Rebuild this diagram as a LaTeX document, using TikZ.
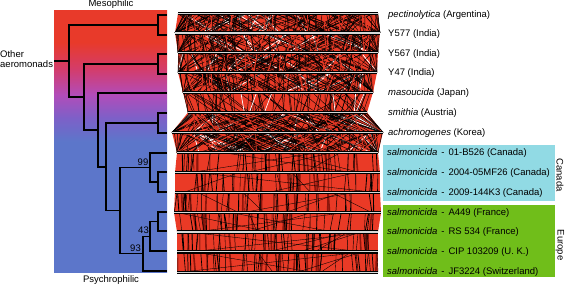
\documentclass[tikz,border=0pt]{standalone}
\usepackage{fontspec}
\setmainfont{Liberation Sans}
\definecolor{synred}{RGB}{234,58,38}
\definecolor{darkred}{RGB}{140,22,12}
\definecolor{cyanbox}{RGB}{145,218,228}
\definecolor{greenbox}{RGB}{112,190,26}
\definecolor{gRed}{RGB}{232,58,42}
\definecolor{gRedMag}{RGB}{212,60,105}
\definecolor{gMag}{RGB}{178,76,185}
\definecolor{gPurp}{RGB}{125,96,200}
\definecolor{gBlue}{RGB}{92,118,202}
\definecolor{barfill}{RGB}{215,215,215}
\pgfdeclareverticalshading{thermo}{100bp}{color(0bp)=(gBlue); color(50bp)=(gBlue); color(54.5bp)=(gPurp); color(59bp)=(gMag); color(64bp)=(gRedMag); color(69bp)=(gRed); color(100bp)=(gRed)}
\begin{document}
\begin{tikzpicture}[x=1pt,y=-1pt,font=\fontsize{9.5}{10.5}\selectfont,
  tree/.style={line width=1.5pt,line join=miter},
  lab/.style={anchor=west,inner sep=0pt},
  boot/.style={anchor=base east,inner sep=0pt},
  region/.style={inner sep=0pt},
  barline/.style={line width=3.4pt,black},
  barinner/.style={line width=1.3pt,barfill}]
\useasboundingbox (0,0) rectangle (565,286);
\pgfmathsetseed{4242}
% gradient panel
\shade[shading=thermo] (54,11) rectangle (167,272);
\node[region] (meso) at (111,4.5) {Mesophilic};
\node[region] (psych) at (111,280.5) {Psychrophilic};
\node[region,anchor=west,align=left] (other) at (0,59) {Other\\aeromonads};
% coloured boxes
\fill[cyanbox] (383,145) rectangle (555,201);
\fill[greenbox] (383,205) rectangle (555,277);
\node[region,rotate=-90] (canada) at (560,175) {Canada};
\node[region,rotate=-90] (europe) at (560,245) {Europe};
% synteny bands
\foreach \yA/\xA/\xB/\yB/\xC/\xD/\kind in {
  13.3/178/378/32.9/175/380/1,
  32.9/175/380/52.5/178/378/1,
  52.5/178/378/72.3/178/377/1,
  72.3/178/377/92.3/183/373/1,
  92.3/183/373/112.5/188/367/4,
  112.5/188/367/132.3/172/383/2,
  132.3/172/383/152.7/177/378/2,
  152.7/177/378/172.7/175/380/3,
  172.7/175/380/192.5/175/380/3,
  192.5/175/380/212.5/174/381/3,
  212.5/174/381/232/177/378/3,
  232/177/378/251.8/177/378/3,
  251.8/177/378/272.2/177/378/3}{
  \fill[synred] (\xA,\yA) -- (\xB,\yA) -- (\xD,\yB) -- (\xC,\yB) -- cycle;
  \ifnum\kind=1
    \foreach \k in {1,...,12}{
      \pgfmathsetmacro\u{rnd}\pgfmathsetmacro\v{max(0,min(1,\u+0.25*rand))}
      \draw[white,line width=0.8pt] ({\xA+\u*(\xB-\xA)},\yA) -- ({\xC+\v*(\xD-\xC)},\yB);}
    \foreach \k in {1,...,120}{
      \pgfmathsetmacro\u{rnd}\pgfmathsetmacro\v{max(0,min(1,\u+0.3*rand))}
      \draw[black,line width=0.45pt] ({\xA+\u*(\xB-\xA)},\yA) -- ({\xC+\v*(\xD-\xC)},\yB);}
    \foreach \k in {1,...,22}{
      \pgfmathsetmacro\u{rnd}\pgfmathsetmacro\v{max(0,min(1,\u+0.04*rand))}
      \draw[synred,line width=0.8pt] ({\xA+\u*(\xB-\xA)},\yA) -- ({\xC+\v*(\xD-\xC)},\yB);}
    \foreach \k in {1,...,35}{
      \pgfmathsetmacro\u{rnd}\pgfmathsetmacro\v{max(0,min(1,\u+0.02*rand))}
      \draw[black,line width=0.45pt] ({\xA+\u*(\xB-\xA)},\yA) -- ({\xC+\v*(\xD-\xC)},\yB);}
  \fi
  \ifnum\kind=4
    \foreach \k in {1,...,55}{
      \pgfmathsetmacro\u{rnd}\pgfmathsetmacro\v{max(0,min(1,\u+0.03*rand))}
      \draw[black,line width=0.45pt] ({\xA+\u*(\xB-\xA)},\yA) -- ({\xC+\v*(\xD-\xC)},\yB);}
    \foreach \k in {1,...,35}{
      \pgfmathsetmacro\u{rnd}\pgfmathsetmacro\v{max(0,min(1,\u+0.2*rand))}
      \draw[black,line width=0.4pt] ({\xA+\u*(\xB-\xA)},\yA) -- ({\xC+\v*(\xD-\xC)},\yB);}
    \foreach \k in {1,...,6}{
      \pgfmathsetmacro\u{rnd}\pgfmathsetmacro\v{max(0,min(1,\u+0.1*rand))}
      \draw[white,line width=0.7pt] ({\xA+\u*(\xB-\xA)},\yA) -- ({\xC+\v*(\xD-\xC)},\yB);}
  \fi
  \ifnum\kind=2
    \foreach \k in {1,...,18}{
      \pgfmathsetmacro\u{rnd}\pgfmathsetmacro\v{max(0,min(1,\u+0.3*rand))}
      \draw[white,line width=0.8pt] ({\xA+\u*(\xB-\xA)},\yA) -- ({\xC+\v*(\xD-\xC)},\yB);}
    \foreach \k in {1,...,160}{
      \pgfmathsetmacro\u{rnd}\pgfmathsetmacro\v{max(0,min(1,\u+0.35*rand))}
      \draw[black,line width=0.45pt] ({\xA+\u*(\xB-\xA)},\yA) -- ({\xC+\v*(\xD-\xC)},\yB);}
    \foreach \k in {1,...,20}{
      \pgfmathsetmacro\u{rnd}\pgfmathsetmacro\v{max(0,min(1,\u+0.3*rand))}
      \draw[synred,line width=0.7pt] ({\xA+\u*(\xB-\xA)},\yA) -- ({\xC+\v*(\xD-\xC)},\yB);}
  \fi
  \ifnum\kind=3
    \foreach \k in {1,...,12}{
      \pgfmathsetmacro\u{rnd}\pgfmathsetmacro\v{max(0,min(1,\u+0.01*rand))}
      \draw[darkred,line width=1.6pt] ({\xA+\u*(\xB-\xA)},\yA) -- ({\xC+\v*(\xD-\xC)},\yB);}
    \foreach \k in {1,...,42}{
      \pgfmathsetmacro\u{rnd}\pgfmathsetmacro\v{max(0,min(1,\u+0.012*rand))}
      \pgfmathsetmacro\w{0.3+0.6*rnd}
      \draw[black,line width=\w pt] ({\xA+\u*(\xB-\xA)},\yA) -- ({\xC+\v*(\xD-\xC)},\yB);}
    \foreach \k in {1,...,5}{
      \pgfmathsetmacro\u{rnd}\pgfmathsetmacro\v{rnd}
      \draw[black,line width=0.35pt] ({\xA+\u*(\xB-\xA)},\yA) -- ({\xC+\v*(\xD-\xC)},\yB);}
  \fi
}
% genome bars
\foreach \yy/\xa/\xb in {13.3/178/378,32.9/175/380,52.5/178/378,72.3/178/377,92.3/183/373,112.5/188/367,132.3/172/383,152.7/177/378,172.7/175/380,192.5/175/380,212.5/174/381,232/177/378,251.8/177/378,272.2/177/378}{
  \draw[barline] (\xa,\yy) -- (\xb,\yy);
  \draw[barinner] (\xa,\yy) -- (\xb,\yy);
}
% tree coordinates
\coordinate (L1) at (167,15);
\coordinate (L2) at (167,35);
\coordinate (L3) at (167,54);
\coordinate (L4) at (167,74);
\coordinate (L5) at (167,93);
\coordinate (L6) at (167,113);
\coordinate (L7) at (167,133);
\coordinate (L8) at (167,153);
\coordinate (L9) at (167,172);
\coordinate (L10) at (167,192);
\coordinate (L11) at (167,212);
\coordinate (L12) at (167,231);
\coordinate (L13) at (167,251);
\coordinate (L14) at (167,271);
\coordinate (n12) at (158,25);
\coordinate (n34) at (158,64);
\coordinate (n67) at (158,123);
\coordinate (n910) at (158,182);
\coordinate (n1112) at (158,221.5);
\coordinate (Can) at (150,167.5);
\coordinate (Eu2) at (150,236.25);
\coordinate (Eur) at (143,253.6);
\coordinate (S) at (120,210.5);
\coordinate (E) at (106,166.8);
\coordinate (D) at (98,130);
\coordinate (C) at (84,97);
\coordinate (R) at (69,61);
\coordinate (root0) at (54,61);
\draw[tree] (root0) -- (R);
\foreach \p/\c in {R/n12,R/C,C/n34,C/D,D/L5,D/E,E/n67,E/S,S/Can,S/Eur,Can/L8,Can/n910,Eur/Eu2,Eur/L14,Eu2/n1112,Eu2/L13,n12/L1,n12/L2,n34/L3,n34/L4,n67/L6,n67/L7,n910/L9,n910/L10,n1112/L11,n1112/L12}{
  \draw[tree] (\p) |- (\c);
}
\node[boot] (b99) at (148.5,166) {99};
\node[boot] (b43) at (149,233) {43};
\node[boot] (b93) at (141,251) {93};
% labels
\node[lab] (t1) at (388,15) {\textit{pectinolytica} (Argentina)};
\node[lab] (t2) at (388,34) {Y577 (India)};
\node[lab] (t3) at (388,54) {Y567 (India)};
\node[lab] (t4) at (388,73) {Y47 (India)};
\node[lab] (t5) at (388,93) {\textit{masoucida} (Japan)};
\node[lab] (t6) at (388,113) {\textit{smithia} (Austria)};
\node[lab] (t7) at (388,133) {\textit{achromogenes} (Korea)};
\node[lab] (t8) at (387,153) {\textit{salmonicida}\hspace{4pt}-\hspace{4pt}01-B526 (Canada)};
\node[lab] (t9) at (387,173) {\textit{salmonicida}\hspace{4pt}-\hspace{4pt}2004-05MF26 (Canada)};
\node[lab] (t10) at (387,193) {\textit{salmonicida}\hspace{4pt}-\hspace{4pt}2009-144K3 (Canada)};
\node[lab] (t11) at (387,213) {\textit{salmonicida}\hspace{4pt}-\hspace{4pt}A449 (France)};
\node[lab] (t12) at (387,232) {\textit{salmonicida}\hspace{4pt}-\hspace{4pt}RS 534 (France)};
\node[lab] (t13) at (387,252) {\textit{salmonicida}\hspace{4pt}-\hspace{4pt}CIP 103209 (U. K.)};
\node[lab] (t14) at (387,272) {\textit{salmonicida}\hspace{4pt}-\hspace{4pt}JF3224 (Switzerland)};
\end{tikzpicture}
\end{document}
